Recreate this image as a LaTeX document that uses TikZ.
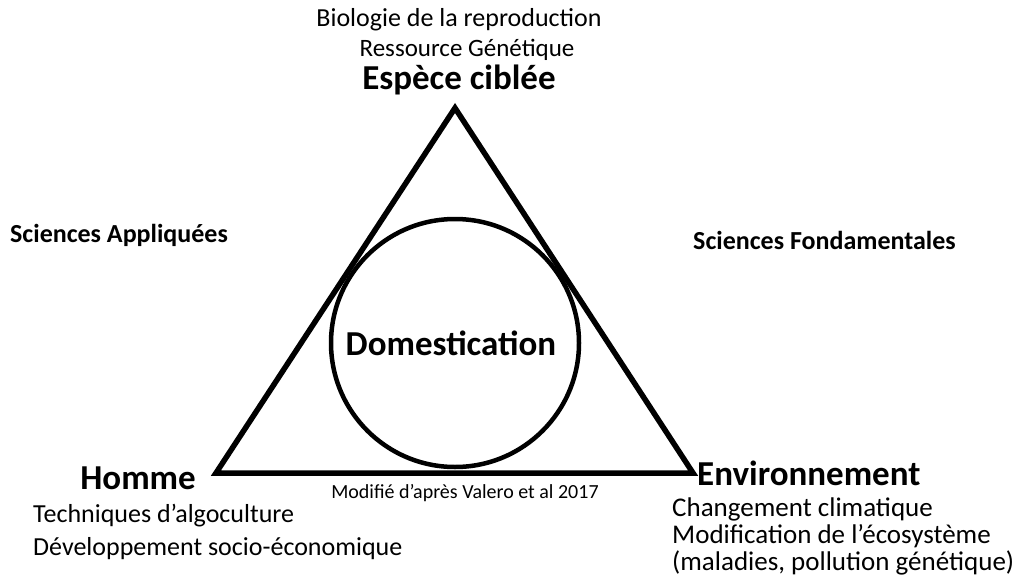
\documentclass[tikz,border=0pt]{standalone}
\usepackage{fontspec}
\setmainfont{Carlito}
\tikzset{
  pole/.style={font=\bfseries\fontsize{35}{38}\selectfont, inner sep=0pt},
  sous/.style={font=\fontsize{26}{30}\selectfont, inner sep=0pt},
  champ/.style={font=\bfseries\fontsize{26}{30}\selectfont, inner sep=0pt}
}
\begin{document}
\begin{tikzpicture}[x=1pt,y=-1pt]
	\useasboundingbox (0,0) rectangle (1013,581);
	\coordinate (haut) at (455,108);
	\coordinate (gauche) at (216,473);
	\coordinate (droite) at (693,473);
	\draw[line width=5.5pt,line join=miter] (haut) -- (gauche) -- (droite) -- cycle;
	\node[draw,circle,line width=4.5pt,minimum size=248pt,inner sep=0pt] (cercle) at (455,343) {};
	\node[pole] (domest) at ([xshift=-4pt]cercle.center) {Domestication};
	\node[sous,anchor=center] (bio) at (459,20) {Biologie de la reproduction};
	\node[font=\fontsize{25}{30}\selectfont,inner sep=0pt,anchor=center] (ress) at (467,50) {Ressource Génétique};
	\node[pole,anchor=center] (espece) at (459,80) {Espèce ciblée};
	\node[champ,anchor=west] (appl) at (10,235) {Sciences Appliquées};
	\node[champ,anchor=west] (fond) at (693,240) {Sciences Fondamentales};
	\node[pole,anchor=east] (homme) at (196,478) {Homme};
	\node[pole,anchor=west] (env) at (697,473) {Environnement};
	\node[font=\fontsize{20}{22}\selectfont,inner sep=0pt] (modif) at (465,493) {Modifié d’après Valero et al 2017};
	\node[sous,anchor=west] (tech) at (33,516) {Techniques d’algoculture};
	\node[sous,anchor=west] (dev) at (33,549) {Développement socio-économique};
	\node[font=\fontsize{27}{30}\selectfont,inner sep=0pt,anchor=west] (clim) at (672,509) {Changement climatique};
	\node[font=\fontsize{27}{30}\selectfont,inner sep=0pt,anchor=west] (eco) at (672,536) {Modification de l’écosystème};
	\node[font=\fontsize{27}{30}\selectfont,inner sep=0pt,anchor=west] (mal) at (672,563) {(maladies, pollution génétique)};
\end{tikzpicture}
\end{document}
